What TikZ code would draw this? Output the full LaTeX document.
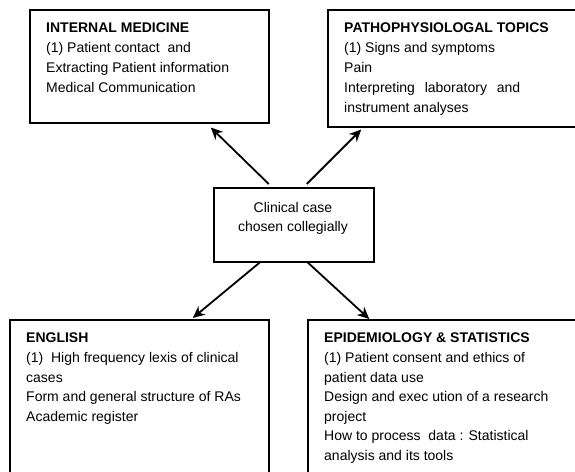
\documentclass[tikz,border=0pt]{standalone}
\usepackage{fontspec}
\setmainfont{Liberation Sans}
\usetikzlibrary{arrows.meta}
\begin{document}
\begin{tikzpicture}[x=1pt,y=-1pt,
  box/.style={draw=black, line width=1.5pt, rectangle, inner sep=0pt, anchor=north west},
  txt/.style={inner sep=0pt, anchor=north west, align=left, font=\fontsize{14}{19.8}\selectfont},
  arr/.style={line width=1.8pt, -{Stealth[length=12pt,width=11pt]}}]
\clip (0,0) rectangle (575,471);
\fill[white] (0,0) rectangle (575,471);
% boxes
\node[box, minimum width=239pt, minimum height=113pt] (im) at (29,9) {};
\node[box, minimum width=260pt, minimum height=117pt] (pt) at (327,9) {};
\node[box, minimum width=160pt, minimum height=74pt] (cc) at (213,187) {};
\node[box, minimum width=259pt, minimum height=170pt] (en) at (9,319) {};
\node[box, minimum width=280pt, minimum height=170pt] (ep) at (307,319) {};
% texts
\node[txt] (imt) at (46,23) {\textbf{INTERNAL MEDICINE}\\(1) Patient contact~ and\\Extracting Patient information\\Medical Communication};
\node[txt] (ptt) at (344,23) {\textbf{PATHOPHYSIOLOGAL TOPICS}\\(1) Signs and symptoms\\Pain\\\makebox[176pt][s]{Interpreting laboratory and}\\instrument analyses};
\node[txt, align=center, anchor=north, font=\fontsize{14}{19}\selectfont] (cct) at (293,202) {Clinical case\\chosen collegially};
\node[txt, font=\fontsize{14}{19.6}\selectfont] (ent) at (26,333) {\textbf{ENGLISH}\\(1)~ High frequency lexis of clinical\\cases\\Form and general structure of RAs\\Academic register};
\node[txt, font=\fontsize{14}{19.6}\selectfont] (ept) at (324,333) {\textbf{EPIDEMIOLOGY \& STATISTICS}\\(1) Patient consent and ethics of\\patient data use\\Design and exec ution of a research\\project\\How to process~ data : Statistical\\analysis and its tools};
% arrows
\draw[arr] ([xshift=-25pt,yshift=3pt]cc.north) -- ([xshift=61.5pt,yshift=-4pt]im.south);
\draw[arr] ([xshift=13pt,yshift=3pt]cc.north) -- ([xshift=-96.5pt,yshift=-2pt]pt.south);
\draw[arr] ([xshift=-34pt]cc.south) -- ([xshift=53.5pt,yshift=1pt]en.north);
\draw[arr] ([xshift=14pt]cc.south) -- ([xshift=-78.5pt]ep.north);
\end{tikzpicture}
\end{document}
